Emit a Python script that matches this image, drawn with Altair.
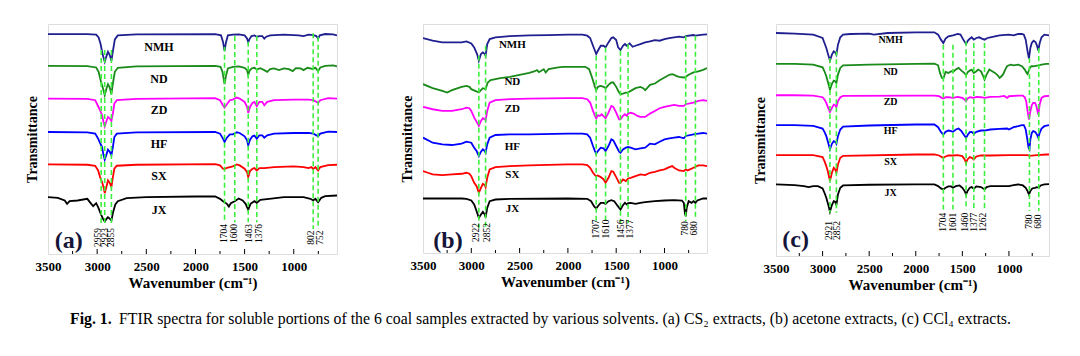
import altair as alt
import pandas as pd

SERIF = "Liberation Serif"
SAMPLES = ["NMH", "ND", "ZD", "HF", "SX", "JX"]
COLORS = ["#1f1f8f", "#1a8a1a", "#ff00ff", "#0000ff", "#ff0000", "#000000"]

# ---------------- Panel (a): CS2 extracts  (wavenumber, transmittance a.u.) ----------------
A_NMH = [(3500, 658), (3100, 658), (3010, 656), (2985, 648), (2965, 628), (2945, 598), (2923, 575), (2905, 592),
         (2890, 605), (2872, 595), (2855, 578), (2838, 610), (2820, 642), (2790, 654), (2600, 657), (1800, 658),
         (1740, 654), (1720, 635), (1704, 608), (1690, 632), (1670, 654), (1620, 656), (1560, 657), (1500, 654),
         (1475, 645), (1463, 633), (1450, 643), (1430, 652), (1400, 654), (1376, 650), (1350, 652), (1320, 652),
         (1300, 644), (1280, 650), (1240, 654), (1100, 656), (950, 654), (900, 652), (850, 656), (800, 655),
         (770, 652), (752, 644), (735, 654), (680, 658), (600, 657), (560, 654)]
A_ND = [(3500, 563), (3100, 562), (3010, 558), (2985, 545), (2965, 520), (2945, 500), (2923, 475), (2905, 495),
        (2890, 508), (2872, 498), (2855, 478), (2840, 510), (2820, 545), (2790, 557), (2600, 561), (1800, 563),
        (1745, 560), (1725, 545), (1704, 508), (1690, 532), (1670, 555), (1620, 560), (1560, 561), (1500, 557),
        (1475, 550), (1463, 535), (1450, 548), (1430, 555), (1400, 557), (1376, 552), (1340, 556), (1300, 550),
        (1270, 545), (1240, 553), (1200, 555), (1150, 550), (1100, 555), (1050, 553), (1010, 547), (980, 556),
        (930, 555), (900, 550), (860, 557), (802, 553), (780, 557), (752, 547), (730, 558), (680, 563),
        (600, 564), (560, 561)]
A_ZD = [(3500, 465), (3100, 464), (3020, 460), (2990, 442), (2970, 430), (2950, 415), (2935, 395), (2923, 382),
        (2905, 398), (2890, 410), (2870, 405), (2855, 398), (2840, 420), (2825, 450), (2800, 460), (2600, 464),
        (1800, 466), (1750, 460), (1720, 445), (1704, 438), (1680, 448), (1650, 460), (1620, 462), (1580, 468),
        (1550, 465), (1500, 455), (1475, 440), (1463, 422), (1445, 440), (1420, 452), (1400, 455), (1376, 442),
        (1350, 455), (1320, 455), (1300, 445), (1270, 455), (1200, 460), (1000, 462), (850, 462), (800, 460),
        (752, 452), (730, 460), (650, 466), (560, 465)]
A_HF = [(3500, 365), (3100, 364), (3020, 360), (2990, 345), (2970, 332), (2950, 320), (2935, 295), (2923, 282),
        (2905, 298), (2890, 312), (2870, 305), (2855, 295), (2840, 320), (2825, 350), (2800, 360), (2600, 364),
        (1800, 365), (1750, 360), (1720, 345), (1704, 335), (1680, 348), (1650, 358), (1620, 358), (1580, 364),
        (1550, 362), (1500, 352), (1475, 340), (1463, 325), (1445, 342), (1420, 352), (1400, 354), (1376, 345),
        (1350, 355), (1320, 355), (1300, 348), (1270, 355), (1200, 360), (1000, 362), (850, 362), (800, 360),
        (752, 352), (730, 360), (650, 366), (560, 365)]
A_SX = [(3500, 268), (3100, 267), (3020, 264), (2990, 250), (2970, 230), (2950, 215), (2935, 200), (2923, 182),
        (2905, 202), (2890, 220), (2870, 212), (2855, 200), (2840, 230), (2825, 255), (2800, 264), (2600, 267),
        (1800, 269), (1750, 265), (1720, 255), (1704, 254), (1680, 258), (1650, 260), (1620, 262), (1580, 268),
        (1550, 265), (1500, 255), (1475, 245), (1463, 230), (1445, 248), (1420, 255), (1400, 257), (1376, 250),
        (1350, 257), (1300, 257), (1200, 260), (1000, 262), (900, 260), (850, 257), (820, 260), (802, 254),
        (780, 260), (752, 250), (730, 260), (650, 266), (560, 267)]
A_JX = [(3500, 170), (3400, 168), (3330, 160), (3306, 150), (3280, 158), (3200, 160), (3100, 165), (3060, 150),
        (3040, 143), (3010, 152), (2990, 140), (2960, 118), (2940, 105), (2923, 97), (2905, 105), (2890, 110),
        (2872, 106), (2855, 100), (2838, 125), (2815, 148), (2790, 158), (2700, 167), (2500, 170), (2000, 172),
        (1800, 172), (1750, 165), (1720, 158), (1704, 155), (1680, 150), (1660, 142), (1640, 152), (1600, 158),
        (1560, 166), (1520, 160), (1490, 150), (1463, 132), (1440, 150), (1400, 158), (1376, 153), (1340, 162),
        (1250, 165), (1100, 170), (900, 170), (830, 165), (802, 160), (780, 165), (752, 155), (720, 168),
        (680, 173), (560, 175)]
A_PEAKS = [2959, 2923, 2855, 1704, 1600, 1463, 1376, 802, 752]

# ---------------- Panel (b): acetone extracts ----------------
B_NMH = [(3500, 643), (3400, 635), (3300, 630), (3200, 630), (3100, 630), (3050, 633), (3000, 627), (2970, 615),
         (2940, 595), (2922, 575), (2900, 595), (2880, 600), (2860, 595), (2852, 590), (2835, 625), (2810, 640),
         (2750, 645), (2600, 649), (2400, 651), (2200, 652), (2000, 653), (1850, 653), (1800, 650), (1770, 643),
         (1740, 620), (1720, 605), (1707, 595), (1690, 605), (1660, 620), (1630, 620), (1610, 615), (1580, 630),
         (1550, 643), (1530, 645), (1500, 637), (1480, 615), (1456, 607), (1430, 620), (1410, 625), (1390, 620),
         (1377, 623), (1360, 627), (1330, 617), (1300, 620), (1250, 625), (1200, 630), (1150, 633), (1100, 637),
         (1050, 635), (1000, 640), (950, 643), (900, 645), (850, 647), (800, 645), (780, 649), (700, 652),
         (680, 650), (600, 653), (560, 654)]
B_ND = [(3500, 505), (3400, 493), (3300, 485), (3250, 480), (3200, 487), (3100, 497), (3050, 500), (3020, 497),
        (3000, 490), (2960, 485), (2922, 480), (2900, 487), (2880, 493), (2852, 490), (2830, 510), (2800, 517),
        (2700, 523), (2600, 527), (2500, 533), (2400, 539), (2350, 543), (2320, 547), (2300, 541), (2250, 550),
        (2230, 540), (2200, 550), (2100, 555), (2050, 557), (2000, 557), (1900, 557), (1820, 557), (1780, 550),
        (1750, 525), (1720, 497), (1707, 487), (1690, 497), (1660, 500), (1630, 497), (1610, 493), (1580, 503),
        (1550, 510), (1530, 510), (1500, 497), (1470, 480), (1456, 475), (1430, 477), (1400, 480), (1377, 480),
        (1350, 485), (1300, 493), (1250, 497), (1220, 493), (1200, 487), (1180, 493), (1150, 503), (1100, 507),
        (1050, 517), (1000, 525), (950, 533), (920, 535), (900, 533), (880, 530), (850, 527), (800, 525),
        (780, 527), (750, 533), (700, 540), (650, 543), (600, 548), (560, 553)]
B_ZD = [(3500, 437), (3400, 430), (3300, 425), (3200, 425), (3100, 430), (3050, 435), (3020, 433), (3000, 425),
        (2970, 405), (2940, 390), (2922, 380), (2900, 395), (2880, 403), (2860, 400), (2852, 397), (2835, 425),
        (2810, 450), (2750, 457), (2600, 460), (2400, 462), (2000, 463), (1850, 463), (1800, 460), (1770, 450),
        (1740, 425), (1720, 410), (1707, 403), (1690, 412), (1670, 410), (1650, 415), (1610, 403), (1580, 420),
        (1550, 440), (1530, 437), (1500, 420), (1470, 400), (1456, 400), (1430, 410), (1410, 415), (1390, 410),
        (1377, 417), (1350, 420), (1320, 417), (1280, 410), (1250, 407), (1200, 407), (1150, 417), (1100, 425),
        (1050, 433), (1000, 437), (950, 440), (900, 443), (850, 440), (800, 440), (780, 445), (700, 450),
        (650, 455), (600, 457), (560, 455)]
B_HF = [(3500, 345), (3400, 330), (3300, 325), (3200, 323), (3100, 327), (3050, 333), (3000, 330), (2970, 315),
        (2945, 305), (2922, 290), (2900, 303), (2880, 310), (2860, 305), (2852, 300), (2835, 325), (2810, 345),
        (2750, 353), (2600, 355), (2400, 355), (2000, 357), (1850, 357), (1800, 355), (1770, 345), (1740, 320),
        (1720, 305), (1707, 297), (1690, 305), (1660, 315), (1630, 313), (1610, 305), (1580, 320), (1550, 340),
        (1530, 337), (1500, 320), (1470, 303), (1456, 300), (1430, 310), (1400, 315), (1377, 317), (1350, 315),
        (1300, 310), (1250, 313), (1200, 315), (1150, 327), (1100, 325), (1050, 333), (1000, 340), (950, 343),
        (900, 345), (850, 347), (800, 343), (780, 350), (700, 355), (650, 357), (600, 359), (560, 357)]
B_SX = [(3500, 245), (3450, 240), (3400, 235), (3300, 233), (3200, 235), (3100, 237), (3050, 240), (3020, 237),
        (3000, 230), (2970, 210), (2945, 200), (2922, 180), (2900, 195), (2880, 207), (2860, 203), (2852, 197),
        (2835, 225), (2810, 250), (2750, 257), (2600, 260), (2400, 262), (2000, 265), (1850, 265), (1800, 263),
        (1770, 255), (1740, 240), (1720, 233), (1707, 230), (1690, 232), (1660, 227), (1630, 220), (1610, 210),
        (1580, 225), (1550, 245), (1530, 243), (1500, 227), (1470, 210), (1456, 210), (1430, 220), (1400, 215),
        (1377, 223), (1350, 225), (1300, 230), (1250, 235), (1200, 233), (1150, 240), (1100, 243), (1050, 247),
        (1000, 250), (950, 257), (920, 260), (900, 255), (850, 247), (800, 245), (780, 250), (760, 247),
        (700, 255), (650, 262), (600, 262), (560, 260)]
B_JX = [(3500, 163), (3100, 163), (3050, 162), (3000, 157), (2970, 145), (2945, 125), (2922, 105), (2900, 115),
        (2880, 123), (2860, 115), (2852, 107), (2835, 135), (2810, 155), (2750, 160), (2600, 162), (2000, 163),
        (1800, 162), (1760, 155), (1730, 140), (1707, 133), (1690, 140), (1660, 150), (1630, 150), (1610, 147),
        (1580, 155), (1550, 158), (1520, 155), (1490, 143), (1456, 130), (1430, 143), (1410, 150), (1390, 145),
        (1377, 149), (1350, 150), (1300, 147), (1250, 150), (1200, 152), (1100, 155), (1000, 157), (900, 158),
        (820, 157), (800, 150), (788, 118), (780, 110), (770, 135), (750, 155), (720, 150), (700, 155),
        (680, 150), (660, 157), (600, 163), (560, 163)]
B_PEAKS = [2922, 2852, 1707, 1610, 1456, 1377, 780, 680]

# ---------------- Panel (c): CCl4 extracts ----------------
C_NMH = [(3500, 670), (3300, 668), (3100, 665), (3000, 655), (2980, 640), (2960, 625), (2940, 605), (2921, 587),
         (2900, 605), (2880, 615), (2865, 612), (2852, 605), (2835, 635), (2810, 657), (2780, 665), (2700, 667),
         (2500, 668), (2450, 665), (2300, 670), (2000, 672), (1800, 672), (1760, 665), (1730, 650), (1704, 640),
         (1680, 653), (1650, 660), (1600, 663), (1550, 667), (1520, 665), (1490, 650), (1460, 637), (1440, 647),
         (1420, 653), (1400, 657), (1377, 650), (1350, 655), (1320, 657), (1290, 653), (1262, 650), (1230, 655),
         (1200, 657), (1150, 660), (1100, 663), (1000, 665), (950, 663), (900, 667), (860, 667), (840, 665),
         (820, 650), (800, 615), (785, 593), (770, 625), (755, 640), (735, 647), (715, 643), (700, 633),
         (685, 617), (670, 640), (650, 657), (620, 665), (570, 663)]
C_ND = [(3500, 577), (3300, 577), (3100, 575), (3000, 567), (2980, 555), (2960, 540), (2940, 520), (2921, 500),
        (2900, 517), (2880, 527), (2865, 525), (2852, 520), (2835, 545), (2810, 565), (2780, 573), (2500, 575),
        (2000, 577), (1800, 578), (1760, 573), (1740, 550), (1720, 535), (1704, 533), (1680, 553), (1650, 550),
        (1620, 555), (1601, 553), (1570, 560), (1540, 565), (1510, 557), (1480, 550), (1460, 543), (1440, 553),
        (1420, 557), (1400, 560), (1377, 550), (1350, 555), (1330, 560), (1300, 555), (1280, 543), (1262, 530),
        (1240, 545), (1210, 560), (1180, 555), (1150, 550), (1120, 543), (1100, 535), (1080, 540), (1060, 547),
        (1040, 560), (1020, 570), (1000, 573), (980, 575), (950, 573), (900, 575), (860, 570), (830, 560),
        (810, 550), (800, 547), (790, 555), (775, 565), (760, 570), (740, 570), (700, 572), (680, 573),
        (650, 575), (600, 577), (570, 577)]
C_ZD = [(3500, 483), (3300, 483), (3100, 482), (3000, 477), (2980, 470), (2960, 460), (2940, 445), (2921, 433),
        (2900, 445), (2880, 455), (2865, 453), (2852, 447), (2835, 465), (2810, 477), (2780, 481), (2000, 482),
        (1800, 482), (1750, 480), (1720, 475), (1704, 473), (1680, 477), (1650, 477), (1601, 475), (1550, 478),
        (1500, 475), (1475, 470), (1460, 465), (1445, 473), (1420, 477), (1377, 475), (1350, 478), (1300, 477),
        (1262, 475), (1200, 478), (1100, 479), (1050, 481), (1020, 475), (1000, 480), (900, 482), (850, 482),
        (830, 477), (815, 465), (800, 435), (785, 410), (770, 435), (755, 453), (740, 460), (720, 460),
        (705, 450), (690, 430), (685, 425), (670, 455), (650, 475), (620, 480), (570, 481)]
C_HF = [(3500, 393), (3300, 393), (3100, 391), (3000, 383), (2980, 373), (2960, 360), (2940, 340), (2921, 320),
        (2900, 337), (2880, 345), (2865, 343), (2852, 337), (2835, 360), (2810, 380), (2780, 389), (2500, 392),
        (2000, 395), (1800, 395), (1760, 387), (1730, 373), (1704, 365), (1680, 373), (1650, 377), (1620, 375),
        (1601, 373), (1570, 380), (1540, 383), (1510, 375), (1480, 363), (1460, 355), (1440, 365), (1420, 372),
        (1400, 373), (1377, 367), (1350, 373), (1300, 377), (1262, 377), (1200, 380), (1100, 382), (1020, 383),
        (1000, 380), (950, 387), (900, 390), (860, 393), (840, 393), (820, 380), (805, 355), (790, 325),
        (780, 320), (770, 350), (755, 370), (740, 375), (720, 373), (700, 365), (685, 355), (670, 370),
        (650, 383), (620, 390), (570, 393)]
C_SX = [(3500, 303), (3300, 303), (3100, 303), (3000, 297), (2980, 285), (2960, 270), (2940, 250), (2921, 225),
        (2900, 250), (2880, 265), (2865, 260), (2852, 250), (2835, 275), (2810, 295), (2780, 301), (2000, 305),
        (1800, 305), (1750, 302), (1720, 297), (1704, 295), (1680, 299), (1650, 302), (1601, 302), (1550, 303),
        (1500, 300), (1475, 290), (1460, 280), (1445, 290), (1420, 297), (1400, 295), (1377, 290), (1350, 299),
        (1300, 302), (1200, 302), (1000, 303), (900, 303), (800, 303), (780, 301), (700, 303), (600, 305),
        (570, 305)]
C_JX = [(3500, 215), (3300, 213), (3200, 210), (3150, 207), (3100, 210), (3050, 210), (3000, 203), (2980, 190),
        (2960, 175), (2940, 155), (2921, 133), (2900, 153), (2880, 165), (2865, 163), (2852, 153), (2835, 185),
        (2810, 205), (2780, 212), (2500, 214), (2000, 215), (1800, 215), (1760, 210), (1730, 203), (1704, 200),
        (1680, 205), (1650, 209), (1620, 209), (1601, 205), (1570, 210), (1530, 212), (1500, 205), (1475, 195),
        (1460, 185), (1445, 195), (1420, 205), (1400, 207), (1377, 202), (1350, 209), (1300, 207), (1262, 200),
        (1240, 207), (1200, 210), (1100, 210), (1000, 210), (950, 213), (900, 215), (850, 212), (820, 205),
        (800, 195), (785, 185), (770, 195), (750, 203), (720, 205), (700, 207), (680, 205), (660, 212),
        (620, 215), (570, 216)]
C_PEAKS = [2921, 2852, 1704, 1601, 1460, 1377, 1262, 780, 680]

X_TICK_LABELS = [3500, 3000, 2500, 2000, 1500, 1000]
MINOR_TICKS = [3250, 2750, 2250, 1750, 1250, 750]
MAJOR_TICKS = [3000, 2500, 2000, 1500, 1000]

CAPTION_BOLD = "Fig. 1."
CAPTION_TEXT = ("FTIR spectra for soluble portions of the 6 coal samples extracted by various solvents. "
                "(a) CS\u2082 extracts, (b) acetone extracts, (c) CCl\u2084 extracts.")


def spectra_df(series_list):
    rows = []
    for name, pts in zip(SAMPLES, series_list):
        for w, t in pts:
            rows.append({"w": w, "T": t, "sample": name})
    return pd.DataFrame(rows)


def panel(series, peaks, cfg):
    xs = alt.Scale(domain=[3500, cfg["right"]], nice=False, zero=False)
    ys = alt.Scale(domain=[0, cfg["top"]], nice=False, zero=False)
    x_axis = alt.Axis(values=X_TICK_LABELS, format="d", labelFlush=False, labelOverlap=False,
                      ticks=False, domain=False, grid=False, labelFont=SERIF, labelFontSize=13,
                      labelFontWeight="bold", labelColor="black", labelPadding=6,
                      titleFont=SERIF, titleFontSize=15, titleFontWeight="bold", titleColor="black",
                      titlePadding=2)
    y_axis = alt.Axis(labels=False, ticks=False, domain=False, grid=False, titleFont=SERIF,
                      titleFontSize=14, titleFontWeight="bold", titleColor="black", titlePadding=9)
    X = alt.X("w:Q", scale=xs, axis=x_axis, title="Wavenumber (cm\u207b\u00b9)")
    Y = alt.Y("T:Q", scale=ys, axis=y_axis, title="Transmittance")

    lines = alt.Chart(spectra_df(series)).mark_line(strokeWidth=1.8, clip=True).encode(
        x=X, y=Y,
        color=alt.Color("sample:N", scale=alt.Scale(domain=SAMPLES, range=COLORS), legend=None),
    )
    dash_df = pd.DataFrame({"w": peaks, "T": cfg["line_top"], "T2": cfg["line_bot"]})
    dashes = alt.Chart(dash_df).mark_rule(color="#3ef03e", strokeWidth=1.6, strokeDash=[5, 3]).encode(
        x=X, y=Y, y2=alt.Y2("T2:Q"))
    lab_df = pd.DataFrame({"w": cfg["label_at"], "T": cfg["label_top"], "txt": [str(p) for p in peaks]})
    peak_labels = alt.Chart(lab_df).mark_text(angle=270, align="right", baseline="middle", font=SERIF,
                                              fontSize=9.5, color="black").encode(x=X, y=Y, text="txt:N")
    name_df = pd.DataFrame({"w": [cfg["name_at"]] * 6, "T": cfg["name_T"], "txt": SAMPLES})
    names = alt.Chart(name_df).mark_text(font=SERIF, fontWeight="bold", fontSize=cfg["name_size"],
                                         color="black", align="center", baseline="middle").encode(
        x=X, y=Y, text="txt:N")
    let_df = pd.DataFrame({"w": [cfg["letter_at"][0]], "T": [cfg["letter_at"][1]], "txt": [cfg["letter"]]})
    letter = alt.Chart(let_df).mark_text(font=SERIF, fontWeight="bold", fontSize=24, color="#15153a",
                                         align="center", baseline="middle").encode(x=X, y=Y, text="txt:N")
    h = cfg["height"]
    maj = alt.Chart(pd.DataFrame({"w": MAJOR_TICKS})).mark_rule(color="black", strokeWidth=1).encode(
        x=X, y=alt.value(h), y2=alt.value(h - 5))
    mnr = alt.Chart(pd.DataFrame({"w": MINOR_TICKS})).mark_rule(color="black", strokeWidth=1).encode(
        x=X, y=alt.value(h), y2=alt.value(h - 3))
    return alt.layer(lines, dashes, peak_labels, names, letter, maj, mnr).properties(
        width=cfg["width"], height=h)


cfg_a = dict(right=560, top=688, width=289, height=230,
             line_top=[610, 610, 610, 620, 652, 635, 652, 660, 650],
             line_bot=[90, 90, 90, 95, 95, 95, 95, 75, 75],
             label_at=[2990, 2925, 2855, 1705, 1606, 1453, 1358, 824, 729],
             label_top=[78, 78, 78, 90, 90, 90, 90, 70, 70],
             name_at=2371, name_T=[620, 523, 432, 330, 232, 132], name_size=12,
             letter="(a)", letter_at=(3289, 40))
cfg_b = dict(right=560, top=685, width=284, height=229,
             line_top=[590, 620, 590, 615, 605, 625, 650, 650],
             line_bot=[75, 75, 90, 90, 90, 90, 95, 105],
             label_at=[2948, 2834, 1714, 1610, 1455, 1362, 783, 690],
             label_top=[90, 90, 100, 100, 100, 100, 95, 95],
             name_at=2575, name_T=[623, 513, 430, 318, 233, 133], name_size=11,
             letter="(b)", letter_at=(3241, 37))
cfg_c = dict(right=570, top=697, width=273, height=232,
             line_top=[595, 615, 635, 635, 645, 640, 640, 595, 625],
             line_bot=[130, 130, 140, 140, 140, 140, 140, 135, 135],
             label_at=[2935, 2840, 1710, 1600, 1472, 1378, 1280, 790, 690],
             label_top=[105, 105, 130, 130, 130, 130, 130, 125, 125],
             name_at=2270, name_T=[650, 553, 463, 375, 283, 190], name_size=10,
             letter="(c)", letter_at=(3290, 48))

pa = panel([A_NMH, A_ND, A_ZD, A_HF, A_SX, A_JX], A_PEAKS, cfg_a)
pb = panel([B_NMH, B_ND, B_ZD, B_HF, B_SX, B_JX], B_PEAKS, cfg_b)
pc = panel([C_NMH, C_ND, C_ZD, C_HF, C_SX, C_JX], C_PEAKS, cfg_c)

row = alt.hconcat(pa, alt.hconcat(pb, pc, spacing=44), spacing=61)

cap_df = pd.DataFrame({"a": [CAPTION_BOLD], "b": [CAPTION_TEXT]})
cap_bold = alt.Chart(cap_df).mark_text(font=SERIF, fontWeight="bold", fontSize=15.8, align="left",
                                       baseline="middle", color="black").encode(
    x=alt.value(22), y=alt.value(8), text="a:N")
cap_rest = alt.Chart(cap_df).mark_text(font=SERIF, fontSize=15.8, align="left",
                                       baseline="middle", color="black").encode(
    x=alt.value(71), y=alt.value(8), text="b:N")
caption = alt.layer(cap_bold, cap_rest).properties(
    width=980, height=18, view=alt.ViewBackground(stroke="transparent"))

chart = alt.vconcat(row, caption, spacing=17).properties(
    padding={"left": 24, "top": 23, "right": 5, "bottom": 0}
).configure_view(stroke="black", strokeWidth=1).configure(font=SERIF)

chart.save("out.html", embed_options={"renderer": "svg", "actions": False})
